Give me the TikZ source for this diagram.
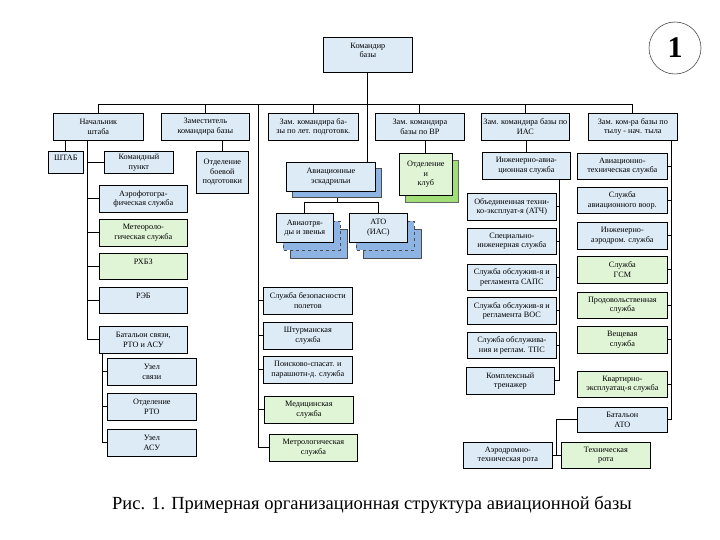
\documentclass[tikz,border=0pt]{standalone}
\usepackage{fontspec}
\setmainfont{Liberation Serif}
\usetikzlibrary{backgrounds}
\definecolor{lb}{RGB}{221,235,247}
\definecolor{lg}{RGB}{224,245,214}
\definecolor{sb}{RGB}{141,180,226}
\definecolor{sg}{RGB}{160,222,120}
\tikzset{
  bx/.style={draw=black, line width=0.7pt, fill=lb, anchor=north west, inner sep=0pt,
    minimum width=89pt, minimum height=27pt, align=center,
    font=\fontsize{8.2}{9.5}\selectfont},
  gbx/.style={bx, fill=lg},
  ln/.style={line width=0.8pt, draw=black},
  shb/.style={draw=black!70, line width=0.6pt, fill=sb},
  shg/.style={draw=black!60, line width=0.6pt, fill=sg},
}
\begin{document}
\begin{tikzpicture}[x=1pt,y=-1pt]
\useasboundingbox (0,0) rectangle (720,540);
% shadows
\draw[shb] (292,168) rectangle (381,197);
\draw[shb] (290,229) rectangle (347,258);
\draw[shb, dashed] (283,221) rectangle (340,250);
\draw[shb] (363,229) rectangle (421,258);
\draw[shb, dashed] (356,221) rectangle (414,250);
\draw[shg] (405,160) rectangle (458,202);
% top
\node[bx, minimum height=35pt] (kb) at (323,37) {Командир\\базы\\~};
\node[bx, minimum width=90pt] (ns) at (53,113) {Начальник\\штаба};
\node[bx, minimum width=88pt] (zk) at (161,113) {Заместитель\\командира базы};
\node[bx, minimum width=90pt] (zlp) at (268,113) {Зам. командира ба-\\зы по лет. подготовк.};
\node[bx] (zvr) at (375,113) {Зам. командира\\базы по ВР};
\node[bx, minimum width=88pt] (zias) at (481,113) {Зам. командира базы по\\ИАС};
\node[bx] (zt) at (588,113) {Зам. ком-ра базы по\\тылу - нач. тыла};
% left column
\node[bx, minimum width=35pt, minimum height=22pt] (shtab) at (48,151) {ШТАБ\\~};
\node[bx, minimum width=69pt, minimum height=22pt] (kp) at (104,151) {Командный\\пункт};
\node[bx, minimum width=52pt, minimum height=42pt] (obp) at (196,151) {Отделение\\боевой\\подготовки};
\node[bx, minimum width=88pt] (aero) at (99,185) {Аэрофотогра-\\фическая служба};
\node[gbx, minimum width=88pt] (meteo) at (99,219) {Метеороло-\\гическая служба};
\node[gbx, minimum width=88pt, minimum height=26pt] (rhbz) at (99,253) {РХБЗ\\~};
\node[bx, minimum width=88pt, minimum height=26pt] (reb) at (99,287) {РЭБ\\~};
\node[bx, minimum width=88pt] (bs) at (99,326) {Батальон связи,\\РТО и АСУ};
\node[bx] (uzs) at (107,358) {Узел\\связи};
\node[bx] (orto) at (107,393) {Отделение\\РТО};
\node[bx] (uasu) at (107,429) {Узел\\АСУ};
% middle
\node[bx, minimum height=29pt] (ae) at (286,162) {Авиационные\\эскадрильи};
\node[bx, minimum width=57pt, minimum height=29pt] (ae1) at (276,213) {Авиаотря-\\ды и звенья};
\node[bx, minimum width=58pt, minimum height=29pt] (ato) at (349,213) {АТО\\(ИАС)};
\node[gbx, minimum width=53pt, minimum height=42pt] (ok) at (399,153) {Отделение\\и\\клуб};
\node[bx] (sbp) at (263,287) {Служба безопасности\\полетов};
\node[bx] (sht) at (263,322) {Штурманская\\служба};
\node[bx] (pss) at (263,356) {Поисково-спасат. и\\парашютн-д. служба};
\node[gbx] (med) at (264,396) {Медицинская\\служба};
\node[gbx, minimum width=88pt] (metr) at (269,434) {Метрологическая\\служба};
% IAS
\node[bx, minimum width=88pt] (ias) at (482,152) {Инженерно-авиа-\\ционная служба};
\node[bx] (atch) at (467,193) {Объединенная техни-\\ко-эксплуат-я (АТЧ)};
\node[bx, minimum height=26pt] (sis) at (467,228) {Специально-\\инженерная служба};
\node[bx, minimum height=26pt] (saps) at (467,264) {Служба обслужив-я и\\регламента САПС};
\node[bx] (vos) at (467,297) {Служба обслужив-я и\\регламента ВОС};
\node[bx, minimum height=26pt] (tps) at (467,332) {Служба обслужива-\\ния и реглам. ТПС};
\node[bx, minimum width=88pt] (kt) at (466,367) {Комплексный\\тренажер};
% rear
\node[bx, minimum width=90pt, minimum height=26pt] (ats) at (577,153) {Авиационно-\\техническая служба};
\node[bx, minimum width=90pt, minimum height=26pt] (sav) at (577,187) {Служба\\авиационного воор.};
\node[bx, minimum width=90pt] (ias2) at (577,222) {Инженерно-\\аэродром. служба};
\node[gbx, minimum width=90pt] (gsm) at (577,256) {Служба\\ГСМ};
\node[gbx, minimum width=90pt, minimum height=26pt] (prod) at (577,292) {Продовольственная\\служба};
\node[gbx, minimum width=90pt] (vesh) at (577,326) {Вещевая\\служба};
\node[gbx, minimum width=90pt, minimum height=26pt] (kes) at (577,371) {Квартирно-\\эксплуатац-я служба};
\node[bx, minimum width=90pt, minimum height=25pt] (bato) at (577,407) {Батальон\\АТО};
\node[bx, minimum height=26pt] (atr) at (463,442) {Аэродромно-\\техническая рота};
\node[gbx, minimum height=26pt] (tr) at (561,442) {Техническая\\рота};
% number and caption
\node[draw=black!70, circle, minimum size=52pt, inner sep=0pt, line width=0.6pt,
  font=\bfseries\fontsize{30}{30}\selectfont] (num) at (675,48) {1};
\node[font=\fontsize{18.5}{21}\selectfont] (cap) at (372,505) {Рис. 1. Примерная организационная структура авиационной базы};
% connectors
\begin{scope}[on background layer]
\fill[white] (0,0) rectangle (720,540);
\coordinate (bus) at (365,104);
\coordinate (L) at (258,104);
\draw[ln] (kb.south) -- (kb.south |- ae.north);
\draw[ln] (ns.north |- bus) -- (zt.north |- bus);
\foreach \n in {ns,zk,zlp,zvr,zias,zt} \draw[ln] (\n.north) -- (\n.north |- bus);
\draw[ln] (L) |- (metr.west);
\foreach \s in {sbp,sht,pss,med} \draw[ln] (\s.west) -- (\s.west -| L);
\draw[ln] (shtab.north) -- (shtab.north |- ns.south);
\path (ns.south) ++(-11pt,0) coordinate (v1);
\draw[ln] (v1) |- (bs.west);
\foreach \s in {kp,aero,meteo,rhbz,reb} \draw[ln] (\s.west) -- (\s.west -| v1);
\path (bs.south west) ++(3pt,0) coordinate (v2);
\draw[ln] (v2) |- (uasu.west);
\foreach \s in {uzs,orto} \draw[ln] (\s.west) -- (\s.west -| v2);
\draw[ln] (obp.north) -- (obp.north |- zk.south);
\coordinate (aj) at (337,202);
\draw[ln] (aj |- ae.south) -- (aj);
\draw[ln] (ae1.north) |- (aj);
\draw[ln] (ato.north) |- (aj);
\draw[ln] (ok.north) -- (ok.north |- zvr.south);
\draw[ln] (ias.north) -- (ias.north |- zias.south);
\path (ias.south) ++(33pt,0) coordinate (v3);
\draw[ln] (v3) |- (kt.east);
\foreach \s in {atch,sis,saps,vos,tps} \draw[ln] (\s.east) -- (\s.east -| v3);
\path (zt.south east) ++(-6pt,0) coordinate (v4);
\draw[ln] (v4) |- (bato.east);
\foreach \s in {ats,sav,ias2,gsm,prod,vesh,kes} \draw[ln] (\s.east) -- (\s.east -| v4);
\coordinate (j4) at (556,455);
\draw[ln] (bato.west) -| (j4);
\draw[ln] (atr.east) -- (tr.west);
\end{scope}
\end{tikzpicture}
\end{document}
